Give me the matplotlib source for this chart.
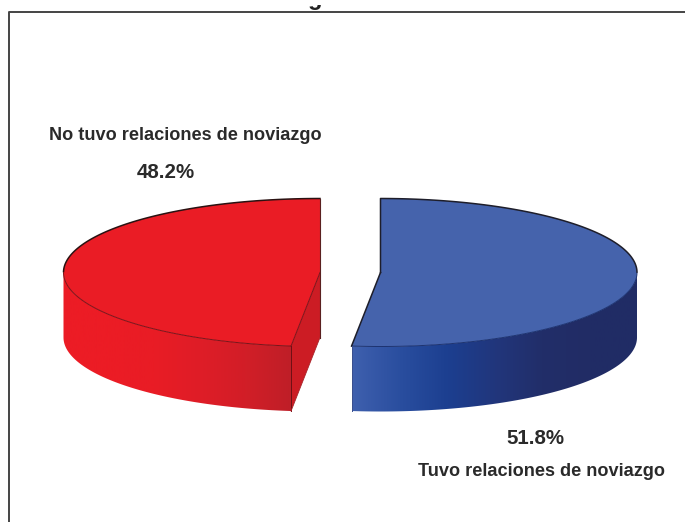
"""3D-look pie chart, two exploded slices drawn by hand in pixel coordinates."""
import numpy as np
import matplotlib
matplotlib.use("Agg")
import matplotlib.pyplot as plt
from matplotlib.colors import LinearSegmentedColormap
from matplotlib.patches import Polygon, Rectangle

categories = ["No tuvo relaciones de noviazgo", "Tuvo relaciones de noviazgo"]
shares = [48.2, 51.8]
share_labels = ["48.2%", "51.8%"]

plt.rcParams["font.family"] = ["Liberation Sans", "DejaVu Sans"]

fig = plt.figure(figsize=(6.85, 5.22), dpi=100)
ax = fig.add_axes([0, 0, 1, 1])
ax.set_xlim(0, 685)
ax.set_ylim(522, 0)
ax.axis("off")

RX, RY, DEPTH = 256.5, 74.0, 65.0
CY = 272.5
RED_CX, BLUE_CX = 320.0, 380.5

# angle measured clockwise from the top of the ellipse
split = 360 * shares[1] / sum(shares)


def rim(cx, a0, a1, n=240):
    t = np.radians(np.linspace(a0, a1, n))
    return cx + RX * np.sin(t), CY - RY * np.cos(t)


def shaded(verts, x0, x1, colors):
    # horizontal gradient clipped to a polygon
    cmap = LinearSegmentedColormap.from_list("w", colors)
    poly = Polygon(verts, closed=True, fc="none", ec="none", transform=ax.transData)
    ax.add_patch(poly)
    im = ax.imshow(np.linspace(0, 1, 256)[None, :], cmap=cmap, aspect="auto",
                   extent=(x0, x1, 522, 0), zorder=2)
    im.set_clip_path(poly)
    ax.set_xlim(0, 685)
    ax.set_ylim(522, 0)


def outline(xs, ys, color, lw=0.9, z=4):
    ax.plot(xs, ys, color=color, lw=lw, zorder=z, solid_joinstyle="round")


# blue slice
bx, by = rim(BLUE_CX, 0, split)
wx, wy = rim(BLUE_CX, 90, split, 200)
wall = np.column_stack([np.r_[wx, wx[::-1]], np.r_[wy, wy[::-1] + DEPTH]])
shaded(wall, wx.min(), wx.max(),
       ["#3F60AE", "#2A4E9F", "#1C3F90", "#21367C", "#222E69", "#212C65", "#202C66"])
top = np.column_stack([np.r_[BLUE_CX, bx], np.r_[CY, by]])
ax.add_patch(Polygon(top, closed=True, fc="#4563AC", ec="none", zorder=3))
# back rim and cut edges dark, front rim only a thin blue line
back = np.degrees(np.linspace(0, np.radians(split), 240)) <= 90
outline(np.r_[BLUE_CX, BLUE_CX, bx[back]], np.r_[CY, by[0], by[back]], "#1E1E2A", lw=1.1)
outline(bx[~back], by[~back], "#1C3270", lw=0.7)
outline([BLUE_CX, bx[-1]], [CY, by[-1]], "#1E1E2A", lw=1.1)
outline([bx[-1], bx[-1]], [by[-1], by[-1] + DEPTH], "#3A4F8E", lw=0.7)

# red slice
rx, ry = rim(RED_CX, split, 360)
wx, wy = rim(RED_CX, split, 270, 200)
wall = np.column_stack([np.r_[wx, wx[::-1]], np.r_[wy, wy[::-1] + DEPTH]])
shaded(wall, wx.min(), wx.max(),
       ["#EC1C25", "#EC1C25", "#E91C25", "#DF1D27", "#D21E27", "#BF1F27"])
cut = [(RED_CX, CY), (rx[0], ry[0]), (rx[0], ry[0] + DEPTH), (RED_CX, CY + DEPTH)]
ax.add_patch(Polygon(cut, closed=True, fc="#CC1C24", ec="none", zorder=3))
top = np.column_stack([np.r_[RED_CX, rx], np.r_[CY, ry]])
ax.add_patch(Polygon(top, closed=True, fc="#EA1C25", ec="none", zorder=3))
back = np.linspace(split, 360, 240) >= 270
outline(rx[back], ry[back], "#2A1212", lw=1.1)
outline(rx[~back], ry[~back], "#7A1218", lw=0.7)
outline([RED_CX, rx[0]], [CY, ry[0]], "#7A1218", lw=0.7)
outline([rx[0], rx[0]], [ry[0], ry[0] + DEPTH], "#6E1015", lw=0.7)
outline([rx[0], RED_CX], [ry[0] + DEPTH, CY + DEPTH], "#A8242A", lw=0.6)
outline([RED_CX, RED_CX], [ry[-1], CY + DEPTH], "#5A2020", lw=0.8)

# frame and clipped title remnant
ax.plot([9, 9, 685], [522, 12, 12], color="#444444", lw=1.4, zorder=5)
g = ax.text(315, 5.5, "g", ha="center", va="baseline", fontsize=17, fontweight="bold",
            color="#222222")
g.set_clip_path(Rectangle((290, 5), 50, 6, transform=ax.transData))
g.set_clip_on(True)

# labels
ax.text(185.5, 135, categories[0], ha="center", va="center", fontsize=13.1,
        fontweight="bold", color="#2A2A2A")
ax.text(166, 172, share_labels[0], ha="center", va="center", fontsize=14.8,
        fontweight="bold", color="#2A2A2A")
ax.text(535, 438, share_labels[1], ha="center", va="center", fontsize=14.8,
        fontweight="bold", color="#2A2A2A")
ax.text(542, 472, categories[1], ha="center", va="center", fontsize=13.1,
        fontweight="bold", color="#2A2A2A")

fig.savefig("out.png", dpi=100, facecolor="white")
